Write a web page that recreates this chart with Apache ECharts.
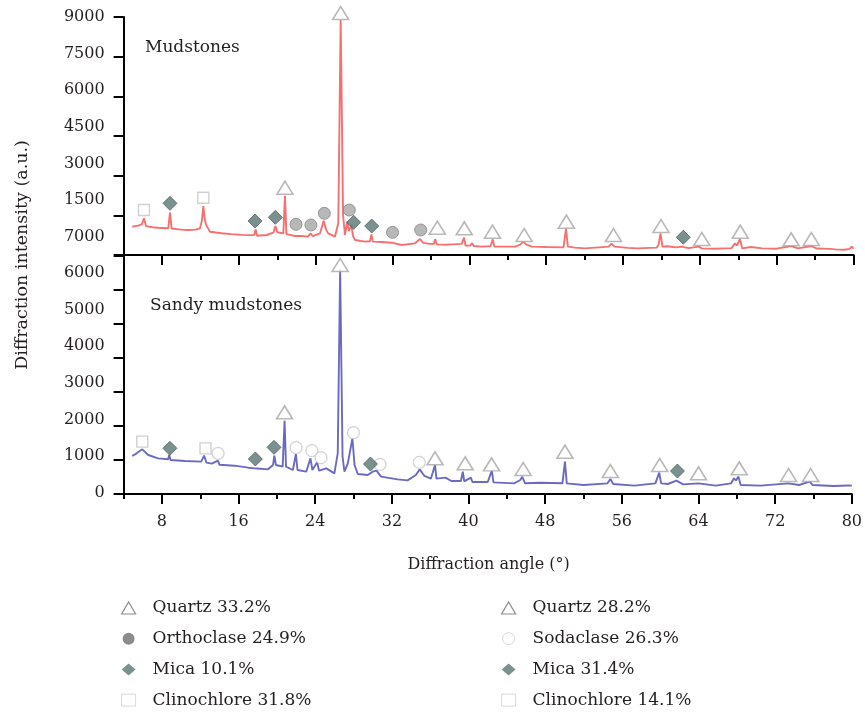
<!DOCTYPE html>
<html><head><meta charset="utf-8">
<script src="https://cdn.jsdelivr.net/npm/echarts@6/dist/echarts.min.js"></script>
<style>html,body{margin:0;padding:0;background:#fff}#c{width:865px;height:712px}</style>
</head><body><div id="c"></div>
<script>
// ---------- data ----------
const majorTicks = [8, 16, 24, 32, 40, 48, 56, 64, 72, 80];
const minorTicks = [4, 12, 20, 28, 36, 44, 52, 60, 68, 76];
const mudYTickLabels = ['7000', '1500', '3000', '4500', '6000', '7500', '9000'];
const sandyYTickLabels = ['0', '1000', '2000', '3000', '4000', '5000', '6000'];

const mudAngle = [4.9,5.5,5.9,6.12,6.35,7.0,7.6,8.65,8.83,9.0,10.0,10.74,11.5,11.95,12.15,12.3,12.45,12.6,13.0,14.2,15.2,16.3,17.0,17.6,17.75,17.9,18.9,19.6,19.8,20.0,20.63,20.8,20.95,21.85,22.5,23.2,23.47,23.7,24.45,24.83,25.1,25.3,26.0,26.35,26.6,26.85,27.05,27.29,27.45,27.7,27.9,28.1,29.1,29.65,29.8,29.95,30.8,31.9,32.95,34.34,34.86,35.2,35.9,36.3,36.45,36.6,37.5,38.2,39.2,39.44,39.6,40.1,40.3,40.45,41.28,42.2,42.43,42.6,43.5,44.75,45.3,45.6,45.9,46.5,48.0,49.8,50.06,50.25,51.0,52.0,53.5,54.5,54.8,55.1,56.5,57.5,59.5,59.7,59.9,60.1,60.6,61.5,62.1,62.8,63.9,64.2,65.5,67.3,67.65,67.85,68.17,68.4,69.3,70.5,72.0,73.5,74.2,75.6,76.2,77.5,78.1,79.0,79.6,79.8,80.0];
const mudIntensity = [1070,1110,1160,1390,1090,1050,1030,1010,1600,1000,960,945,960,1010,1300,1850,1350,1130,880,820,790,760,750,756,970,730,756,850,1100,860,819,2240,790,718,720,693,819,710,819,1290,950,819,693,1200,8890,1500,760,1260,900,1130,700,567,504,520,782,504,490,466,378,441,605,460,420,420,600,400,390,403,420,655,353,360,450,340,315,330,592,320,315,315,390,504,400,315,300,290,1008,315,280,252,290,315,428,315,270,252,277,400,819,315,330,290,315,260,315,250,239,260,441,360,605,252,302,250,239,340,250,340,245,230,214,200,230,315,239];

const sandyAngle = [4.9,5.36,5.95,6.57,7.6,8.65,8.76,8.9,10.4,12.1,12.4,12.65,13.2,13.86,14.0,15.6,17.0,17.7,17.8,17.95,19.06,19.6,19.73,19.9,20.6,20.8,20.95,21.67,21.98,22.15,23.06,23.5,23.7,24.2,24.4,25.15,26.0,26.35,26.6,26.85,27.05,27.4,27.6,27.88,28.1,28.44,29.48,30.0,30.4,30.87,32.6,33.64,34.5,34.9,35.4,36.07,36.5,36.65,37.6,38.2,39.2,39.4,39.55,40.24,40.4,42.0,42.43,42.6,44.75,45.4,45.6,45.9,47.5,49.8,50.06,50.25,52.0,54.5,54.8,55.1,57.3,59.5,59.9,60.1,60.8,61.7,62.4,64.0,65.8,67.4,67.7,67.9,68.17,68.4,70.5,73.4,74.5,75.6,75.9,78.1,79.6,79.8,80.0];
const sandyIntensity = [1118,1196,1314,1147,1049,1020,1147,1000,970,951,1127,921,892,980,862,833,774,755,804,750,725,853,1127,853,804,2157,804,706,1176,706,657,1049,706,931,686,755,608,1200,6600,1100,657,902,880,1637,853,588,559,657,686,510,431,402,559,725,530,451,853,451,480,382,382,657,372,480,353,353,686,343,314,412,510,314,333,314,951,314,265,314,441,294,245,314,627,314,294,392,284,314,245,314,461,400,510,265,245,314,265,362,265,235,250,294,245];

// phase markers, Mudstones
const mudQuartzAngle = [20.8,26.6,36.66,39.47,42.4,45.7,50.1,55.0,59.95,64.2,68.2,73.5,75.6];
const mudQuartzY = [2545,9150,1033,1008,882,756,1260,756,1096,605,882,592,605];
const mudOrthoAngle = [21.95,23.5,24.9,27.5,32.0,34.93];
const mudOrthoY = [1160,1134,1576,1700,857,945];
const mudMicaAngle = [8.83,17.68,19.8,27.95,29.83,62.27];
const mudMicaY = [1954,1286,1424,1235,1096,670];
const mudClinoAngle = [6.12,12.3];
const mudClinoY = [1700,2167];
// phase markers, Sandy mudstones
const sandyQuartzAngle = [20.8,26.6,36.5,39.65,42.4,45.7,50.06,54.8,59.95,64.0,68.25,73.4,75.7];
const sandyQuartzY = [2402,6735,1049,902,872,735,1245,676,853,608,755,559,559];
const sandySodaAngle = [13.86,22.0,23.65,24.6,27.99,30.76,34.86];
const sandySodaY = [1196,1363,1275,1069,1804,872,931];
const sandyMicaAngle = [8.83,17.75,19.7,29.76,61.8];
const sandyMicaY = [1343,1029,1372,882,676];
const sandyClinoAngle = [5.95,12.55];
const sandyClinoY = [1539,1343];

// ---------- chart ----------
const FONT = 'DejaVu Serif';
const TXT = '#231f20';
const zip = (a, b) => a.map((v, i) => [v, b[i]]);
const chart = echarts.init(document.getElementById('c'), null, {renderer: 'canvas'});

const L = 123.6, R = 865 - 853.6;
const grids = [
  {left: L, right: R, top: 17, height: 238},   // 0 Mudstones data
  {left: L, right: R, top: 256, height: 238},  // 1 Sandy data
  {left: L, right: R, top: 17, height: 220},   // 2 Mudstones labels
  {left: L, right: R, top: 273, height: 220}   // 3 Sandy labels
];
const axLine = {show: true, lineStyle: {color: '#000', width: 2}};
function majorX(grid, labels) {
  return {type: 'value', gridIndex: grid, min: 4, max: 80, position: 'bottom',
    axisLine: axLine, splitLine: {show: false},
    axisTick: {show: true, inside: false, length: 10, customValues: majorTicks, lineStyle: {color: '#000', width: 2}},
    axisLabel: labels ? {show: true, customValues: majorTicks, margin: 20, fontFamily: FONT, fontSize: 16, color: TXT} : {show: false}};
}
function minorX(grid) {
  return {type: 'value', gridIndex: grid, min: 4, max: 80, position: 'bottom',
    axisLine: {show: false}, splitLine: {show: false},
    axisTick: {show: true, inside: false, length: 5, customValues: minorTicks, lineStyle: {color: '#000', width: 2}},
    axisLabel: {show: false}};
}
function hiddenX(grid) {
  return {type: 'value', gridIndex: grid, min: 4, max: 80, show: false};
}
const xAxis = [majorX(0, false), minorX(0), majorX(1, true), minorX(1), hiddenX(2), hiddenX(3)];
const yAxis = [
  {type: 'value', gridIndex: 0, min: 0, max: 9000, interval: 1500, axisLine: axLine,
   axisTick: {show: true, length: 10, lineStyle: {color: '#000', width: 2}}, axisLabel: {show: false}, splitLine: {show: false}},
  {type: 'value', gridIndex: 1, min: 0, max: 7000, interval: 1000, axisLine: axLine,
   axisTick: {show: true, length: 10, lineStyle: {color: '#000', width: 2}}, axisLabel: {show: false}, splitLine: {show: false}},
  {type: 'value', gridIndex: 2, min: 0, max: 9000, interval: 1500, axisLine: {show: false}, axisTick: {show: false}, splitLine: {show: false},
   axisLabel: {margin: 19, fontFamily: FONT, fontSize: 16, color: TXT, formatter: v => mudYTickLabels[Math.round(v / 1500)]}},
  {type: 'value', gridIndex: 3, min: 0, max: 6000, interval: 1000, axisLine: {show: false}, axisTick: {show: false}, splitLine: {show: false},
   axisLabel: {margin: 19, fontFamily: FONT, fontSize: 16, color: TXT, formatter: v => sandyYTickLabels[Math.round(v / 1000)]}}
];

const triStyle = {color: '#ffffff', borderColor: '#a8a8a8', borderWidth: 1.6};
const orthoStyle = {color: '#a6a6a6', borderColor: '#858585', borderWidth: 1};
const micaStyle = {color: '#5a7674', borderColor: '#4b6664', borderWidth: 1};
const clinoStyle = {color: '#ffffff', borderColor: '#c4c4c4', borderWidth: 1.4};
const sodaStyle = {color: '#ffffff', borderColor: '#c8c8c8', borderWidth: 1.3};

function sc(name, xi, yi, data, symbol, size, style) {
  return {type: 'scatter', name, xAxisIndex: xi, yAxisIndex: yi, data, symbol, symbolSize: size,
    itemStyle: style, clip: false, z: 5, emphasis: {disabled: true}};
}

const series = [
  {type: 'line', name: 'Mudstones', xAxisIndex: 0, yAxisIndex: 0, data: zip(mudAngle, mudIntensity),
   showSymbol: false, symbol: 'none', lineStyle: {color: '#f7706f', width: 1.9}, itemStyle: {color: '#f7706f'}, z: 3, clip: false},
  {type: 'line', name: 'Sandy mudstones', xAxisIndex: 2, yAxisIndex: 1, data: zip(sandyAngle, sandyIntensity),
   showSymbol: false, symbol: 'none', lineStyle: {color: '#6a6ac2', width: 1.9}, itemStyle: {color: '#6a6ac2'}, z: 3, clip: false},
  sc('Quartz 33.2%', 0, 0, zip(mudQuartzAngle, mudQuartzY), 'triangle', [16, 13], triStyle),
  sc('Orthoclase 24.9%', 0, 0, zip(mudOrthoAngle, mudOrthoY), 'circle', 12, orthoStyle),
  sc('Mica 10.1%', 0, 0, zip(mudMicaAngle, mudMicaY), 'diamond', 14, micaStyle),
  sc('Clinochlore 31.8%', 0, 0, zip(mudClinoAngle, mudClinoY), 'rect', 11, clinoStyle),
  sc('Quartz 28.2%', 2, 1, zip(sandyQuartzAngle, sandyQuartzY), 'triangle', [16, 13], triStyle),
  sc('Sodaclase 26.3%', 2, 1, zip(sandySodaAngle, sandySodaY), 'circle', 12, sodaStyle),
  sc('Mica 31.4%', 2, 1, zip(sandyMicaAngle, sandyMicaY), 'diamond', 14, micaStyle),
  sc('Clinochlore 14.1%', 2, 1, zip(sandyClinoAngle, sandyClinoY), 'rect', 11, clinoStyle)
];

const legendText = {fontFamily: FONT, fontSize: 17, color: TXT, lineHeight: 20, padding: [0, 0, 0, 12]};
const lgTri = {color: '#ffffff', borderColor: '#6e6e6e', borderWidth: 1.2};
const lgOrtho = {color: '#6f6f6f', borderColor: '#6f6f6f', borderWidth: 0};
const lgMica = {color: '#5a7674', borderColor: '#5a7674', borderWidth: 0};
const lgClino = {color: '#ffffff', borderColor: '#cfcfcf', borderWidth: 1};
const lgSoda = {color: '#ffffff', borderColor: '#d0d0d0', borderWidth: 1};
const legend = [
  {orient: 'vertical', left: 121, top: 598, itemWidth: 14, itemHeight: 12, itemGap: 10.7, padding: 0,
   selectedMode: false, textStyle: legendText,
   data: [{name: 'Quartz 33.2%', itemStyle: lgTri}, {name: 'Orthoclase 24.9%', itemStyle: lgOrtho},
          {name: 'Mica 10.1%', itemStyle: lgMica}, {name: 'Clinochlore 31.8%', itemStyle: lgClino}]},
  {orient: 'vertical', left: 501, top: 598, itemWidth: 14, itemHeight: 12, itemGap: 10.7, padding: 0,
   selectedMode: false, textStyle: legendText,
   data: [{name: 'Quartz 28.2%', itemStyle: lgTri}, {name: 'Sodaclase 26.3%', itemStyle: lgSoda},
          {name: 'Mica 31.4%', itemStyle: lgMica}, {name: 'Clinochlore 14.1%', itemStyle: lgClino}]}
];

const title = [
  {text: 'Mudstones', left: 145, top: 38, padding: 0, textStyle: {fontFamily: FONT, fontSize: 17, fontWeight: 'normal', color: TXT, lineHeight: 20}},
  {text: 'Sandy mudstones', left: 150, top: 296, padding: 0, textStyle: {fontFamily: FONT, fontSize: 17, fontWeight: 'normal', color: TXT, lineHeight: 20}}
];

const graphic = [
  {type: 'text', x: 22, y: 255, rotation: Math.PI / 2,
   style: {text: 'Diffraction intensity (a.u.)', fontFamily: FONT, fontSize: 17.5, fill: TXT, align: 'center', verticalAlign: 'middle'}},
  {type: 'text', x: 488.6, y: 565,
   style: {text: 'Diffraction angle (°)', fontFamily: FONT, fontSize: 16, fill: TXT, align: 'center', verticalAlign: 'middle'}}
];

chart.setOption({backgroundColor: '#ffffff', animation: false, grid: grids, xAxis, yAxis, series, legend, title, graphic});
</script></body></html>
